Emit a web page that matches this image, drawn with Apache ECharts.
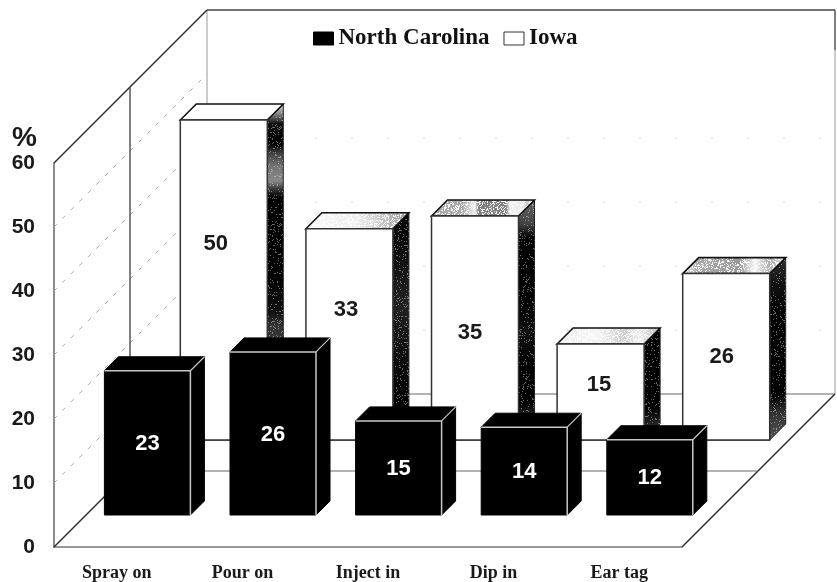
<!DOCTYPE html>
<html>
<head>
<meta charset="utf-8">
<style>html,body{margin:0;padding:0;background:#fff}#chart{width:837px;height:582px}</style>
<script src="https://cdn.jsdelivr.net/npm/echarts@6/dist/echarts.min.js"></script>
</head>
<body>
<div id="chart"></div>
<script>
// Percent of respondents by insecticide application method
const categories = ['Spray on', 'Pour on', 'Inject in', 'Dip in', 'Ear tag'];
const northCarolina = [23, 26, 15, 14, 12];
const iowa = [50, 33, 35, 15, 26];
const sideWallTicks = [10, 20, 30, 40, 50];
const backWallTicks = [10, 20, 30, 40];

// Oblique projection: each row of bars sits further along the 45 degree floor
const ROOM_DEPTH = 153;
const MID_DEPTH = 76;
const FLOOR_LINE_DEPTH = 107;
const ROW = {
  nc: { shiftX: 30.6, shiftY: 32, depth: 14, width: 86, rise: 0.98 },
  iowa: { shiftX: 107, shiftY: 107, depth: 16, width: 87, rise: 1 }
};

// Nudges of the Iowa value labels relative to the centre of each front face
const iowaLabelNudge = [[-8, -36], [-3.5, -24], [-5, 5], [-1.5, -7], [-4.5, 0]];

// Shading of the Iowa bars, one gradient per bar
const iowaSideShades = [
  [[0, '#ddd'], [0.03, '#888'], [0.06, '#111'], [0.12, '#000'], [0.15, '#444'], [0.19, '#777'], [0.23, '#888'], [0.255, '#333'], [0.28, '#000'], [0.5, '#000'], [0.62, '#111'], [0.66, '#333'], [1, '#444']],
  [[0, '#000'], [0.2, '#111'], [0.4, '#222'], [0.6, '#111'], [0.8, '#000'], [1, '#000']],
  [[0, '#666'], [0.1, '#444'], [0.16, '#000'], [0.4, '#000'], [0.55, '#111'], [0.7, '#000'], [0.85, '#000'], [0.9, '#333'], [1, '#444']],
  [[0, '#000'], [0.7, '#000'], [0.85, '#222'], [1, '#333']],
  [[0, '#333'], [0.15, '#111'], [0.3, '#000'], [0.75, '#000'], [0.85, '#333'], [1, '#555']]
];
const iowaTopShades = [
  [[0, '#fff'], [1, '#fff']],
  [[0, '#f8f8f8'], [0.5, '#eee'], [0.8, '#bbb'], [1, '#999']],
  [[0, '#aaa'], [0.3, '#aaa'], [0.42, '#eee'], [0.46, '#808080'], [0.72, '#808080'], [0.76, '#eee'], [0.88, '#eee'], [1, '#999']],
  [[0, '#eee'], [0.4, '#f4f4f4'], [0.65, '#ccc'], [0.8, '#eee'], [1, '#bbb']],
  [[0, '#eee'], [0.15, '#aaa'], [0.55, '#999'], [0.7, '#f8f8f8'], [0.85, '#aaa'], [1, '#eee']]
];

const LINE_DARK = '#2a2a2a';
const LINE_MID = '#666';
const LINE_SOFT = '#999';
const grad = (x2, y2, stops) => new echarts.graphic.LinearGradient(0, 0, x2, y2,
  stops.map(s => ({ offset: s[0], color: s[1] })));

// Repeating stipple laid over the shaded faces
function makeStipple(density, alpha) {
  const size = 97;
  const c = document.createElement('canvas');
  c.width = c.height = size;
  const ctx = c.getContext('2d');
  ctx.fillStyle = 'rgba(255,255,255,' + alpha + ')';
  for (let x = 0; x < size; x++) {
    for (let y = 0; y < size; y++) {
      let h = Math.imul(x + 1, 73856093) ^ Math.imul(y + 1, 19349663);
      h = Math.imul(h ^ (h >>> 13), 1274126177);
      h = (h ^ (h >>> 16)) >>> 0;
      if (h % 101 < density) {
        ctx.fillRect(x, y, 1, 1);
      }
    }
  }
  return { image: c, repeat: 'repeat' };
}
const sideStipple = makeStipple(9, 0.4);
const topStipple = makeStipple(30, 0.9);

function seg(x1, y1, x2, y2, stroke, lineWidth, lineDash) {
  return {
    type: 'line',
    shape: { x1, y1, x2, y2 },
    style: { stroke, lineWidth, lineDash: lineDash || null, fill: null }
  };
}

// Walls and floor behind the bars, built on the value axis scale
function renderRoom(params, api) {
  const g = params.coordSys;
  const left = g.x, right = g.x + g.width;
  const bottom = api.coord([0, 0])[1];
  const top = api.coord([0, 60])[1];
  const D = ROOM_DEPTH;
  const kids = [];

  sideWallTicks.forEach(v => {
    const y = api.coord([0, v])[1];
    kids.push(seg(left, y, left + D, y - D, '#a8a8a8', 1, [4, 8]));
  });
  backWallTicks.forEach(v => {
    const y = api.coord([0, v])[1];
    kids.push(seg(left + D, y - D, right + D, y - D, '#d4d4d4', 1, [2, 34]));
  });

  kids.push(seg(left + D, top - D, left + D, bottom - D, LINE_SOFT, 1));
  kids.push(seg(left + D, bottom - D, right + D, bottom - D, LINE_MID, 1));
  kids.push(seg(right + D, top - D, right + D, bottom - D, LINE_SOFT, 1));
  kids.push(seg(right + D, top - D, right + D, top - D + 40, LINE_MID, 1.5));
  kids.push(seg(left, top, left + D, top - D, LINE_DARK, 1.5));
  kids.push(seg(left + D, top - D, right + D, top - D, '#444', 1.5));
  kids.push(seg(left, bottom, left + D, bottom - D, LINE_DARK, 1.5));
  kids.push(seg(right, bottom, right + D, bottom - D, LINE_DARK, 1.5));

  const M = MID_DEPTH;
  kids.push(seg(left + M, top - M, left + M, bottom - M, '#555', 1.5));
  kids.push(seg(left + M, bottom - M, right + M, bottom - M, LINE_MID, 1.2));
  const F = FLOOR_LINE_DEPTH;
  kids.push(seg(left + F, bottom - F, right + F - 19, bottom - F, '#444', 1.6));

  return { type: 'group', children: kids };
}

function valueLabel(x, y, text, fill) {
  return {
    type: 'text',
    style: {
      x, y, text, fill,
      font: 'bold 22px "Liberation Sans", Arial, sans-serif',
      align: 'center', verticalAlign: 'middle'
    }
  };
}

function poly(points, fill, stroke, lineWidth) {
  return { type: 'polygon', shape: { points }, style: { fill, stroke, lineWidth } };
}

function renderNorthCarolina(params, api) {
  const r = ROW.nc;
  const base = api.coord([api.value(0), 0]);
  const peak = api.coord([api.value(0), api.value(1)]);
  const xc = base[0] + r.shiftX;
  const l = xc - r.width / 2, w = xc + r.width / 2;
  const b = base[1] - r.shiftY, t = b - (base[1] - peak[1]) * r.rise;
  const d = r.depth;
  const edge = '#c8c8c8';
  return {
    type: 'group',
    children: [
      poly([[w, t], [w + d, t - d], [w + d, b - d], [w, b]], '#000', '#000', 1),
      poly([[l, t], [l + d, t - d], [w + d, t - d], [w, t]], '#000', '#000', 1),
      poly([[l, t], [w, t], [w, b], [l, b]], '#000', '#000', 1),
      { type: 'polyline', shape: { points: [[l, t], [w, t], [w, b]] }, style: { stroke: edge, lineWidth: 1.5, fill: null } },
      seg(w, t, w + d, t - d, edge, 1.2),
      valueLabel((l + w) / 2, (t + b) / 2 + 1, String(api.value(1)), '#fff')
    ]
  };
}

function renderIowa(params, api) {
  const r = ROW.iowa;
  const i = api.value(0);
  const base = api.coord([i, 0]);
  const peak = api.coord([i, api.value(1)]);
  const xc = base[0] + r.shiftX;
  const l = xc - r.width / 2, w = xc + r.width / 2;
  const b = base[1] - r.shiftY, t = b - (base[1] - peak[1]) * r.rise;
  const d = r.depth;
  const nudge = iowaLabelNudge[i];
  const side = [[w, t], [w + d, t - d], [w + d, b - d], [w, b]];
  const lid = [[l, t], [l + d, t - d], [w + d, t - d], [w, t]];
  return {
    type: 'group',
    children: [
      poly(side, grad(0, 1, iowaSideShades[i]), '#222', 1),
      { type: 'polygon', shape: { points: side }, style: { fill: sideStipple } },
      poly(lid, grad(1, 0, iowaTopShades[i]), null, 0),
      { type: 'polygon', shape: { points: lid }, style: { fill: topStipple } },
      { type: 'polygon', shape: { points: lid }, style: { fill: null, stroke: '#111', lineWidth: 1.6 } },
      poly([[l, t], [w, t], [w, b], [l, b]], '#fff', '#333', 1.5),
      valueLabel(xc + nudge[0], (t + b) / 2 + nudge[1], String(api.value(1)), '#1a1a1a')
    ]
  };
}

const chart = echarts.init(document.getElementById('chart'), null, { renderer: 'canvas' });
chart.setOption({
  animation: false,
  backgroundColor: '#fff',
  grid: { left: 54, right: 155, top: 163, bottom: 35, containLabel: false },
  legend: {
    left: 313,
    top: 27,
    padding: 0,
    itemWidth: 20,
    itemHeight: 13,
    itemGap: 14,
    selectedMode: false,
    icon: 'rect',
    textStyle: { fontFamily: '"Liberation Serif", "Times New Roman", serif', fontWeight: 'bold', fontSize: 23, color: '#111' },
    data: [
      { name: 'North Carolina', itemStyle: { color: '#000', borderColor: '#000', borderWidth: 1 } },
      { name: 'Iowa', itemStyle: { color: '#fff', borderColor: '#333', borderWidth: 1 } }
    ]
  },
  xAxis: {
    type: 'category',
    data: categories,
    axisTick: { show: false },
    axisLine: { lineStyle: { color: '#777', width: 1.5 } },
    axisLabel: {
      margin: 17,
      color: '#1a1a1a',
      fontFamily: '"Liberation Serif", "Times New Roman", serif',
      fontWeight: 'bold',
      fontSize: 18
    }
  },
  yAxis: {
    type: 'value',
    min: 0,
    max: 60,
    interval: 10,
    name: '%',
    nameLocation: 'end',
    nameGap: 10,
    nameTextStyle: {
      align: 'right',
      padding: [0, 17, 0, 0],
      color: '#1a1a1a',
      fontFamily: '"Liberation Sans", Arial, sans-serif',
      fontWeight: 'bold',
      fontSize: 28
    },
    splitLine: { show: false },
    axisTick: { show: false },
    axisLine: { show: true, lineStyle: { color: '#666', width: 1.5 } },
    axisLabel: {
      margin: 19,
      color: '#1a1a1a',
      fontFamily: '"Liberation Sans", Arial, sans-serif',
      fontWeight: 'bold',
      fontSize: 21
    }
  },
  series: [
    {
      type: 'custom',
      name: 'room',
      silent: true,
      renderItem: renderRoom,
      data: [[0, 0]],
      encode: { x: 0, y: 1 }
    },
    {
      type: 'custom',
      name: 'Iowa',
      itemStyle: { color: '#fff' },
      renderItem: renderIowa,
      data: iowa.map((v, i) => [i, v]),
      encode: { x: 0, y: 1 }
    },
    {
      type: 'custom',
      name: 'North Carolina',
      itemStyle: { color: '#000' },
      renderItem: renderNorthCarolina,
      data: northCarolina.map((v, i) => [i, v]),
      encode: { x: 0, y: 1 }
    }
  ]
});
</script>
</body>
</html>
